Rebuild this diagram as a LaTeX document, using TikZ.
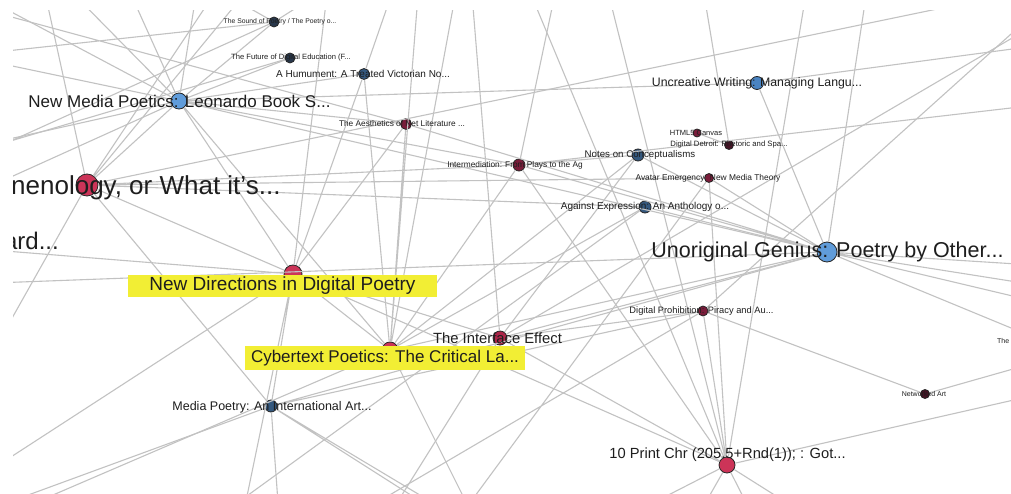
\documentclass[tikz,border=0pt]{standalone}
\usepackage{fontspec}
\setmainfont{Liberation Sans}
\newcommand{\fsz}[1]{\fontsize{#1}{#1}\selectfont}
\definecolor{edgegray}{RGB}{194,194,194}
\definecolor{crimson}{RGB}{204,52,88}
\definecolor{darkcrimson}{RGB}{172,36,72}
\definecolor{wine}{RGB}{122,28,58}
\definecolor{darkwine}{RGB}{70,20,38}
\definecolor{skyblue}{RGB}{96,156,218}
\definecolor{midblue}{RGB}{74,132,194}
\definecolor{steel}{RGB}{52,88,126}
\definecolor{slate}{RGB}{40,55,75}
\definecolor{hilite}{RGB}{242,238,52}
\definecolor{labtext}{RGB}{30,30,30}

\begin{document}
\begin{tikzpicture}[x=1pt,y=-1pt,
  edge/.style={draw=edgegray, line width=1.1pt},
  vdot/.style={circle, draw=black!85, line width=0.8pt, inner sep=0pt, minimum size=#1},
  lab/.style={inner sep=0pt, text=labtext},
  hl/.style={fill=hilite, inner sep=0pt, text=labtext}]

\fill[white] (0,0) rectangle (1011,494);
\begin{scope}
\clip (13,11) rectangle (1011,494);

% books
\node[vdot=16pt, fill=skyblue] (np) at (179,101) {};
\node[vdot=22pt, fill=crimson] (ap) at (87,185) {};
\node[vdot=18pt, fill=crimson] (nd) at (293,274) {};
\node[vdot=16pt, fill=crimson] (cy) at (390,350) {};
\node[vdot=14pt, fill=darkcrimson] (ie) at (500,338) {};
\node[vdot=12pt, fill=steel] (mp) at (271,406) {};
\node[vdot=16pt, fill=crimson] (tp) at (727,465) {};
\node[vdot=20pt, fill=skyblue] (ug) at (827,252) {};
\node[vdot=13pt, fill=midblue] (uw) at (757,83) {};
\node[vdot=10pt, fill=wine] (dp) at (703,311) {};
\node[vdot=9pt, fill=darkwine] (na) at (925,394) {};
\node[vdot=10pt, fill=slate] (sp) at (274,22) {};
\node[vdot=10pt, fill=slate] (fu) at (290,58) {};
\node[vdot=11pt, fill=steel] (hu) at (364,74) {};
\node[vdot=11pt, fill=wine] (ae) at (406,124) {};
\node[vdot=12pt, fill=wine] (im) at (519,165) {};
\node[vdot=12pt, fill=steel] (nc) at (638,155) {};
\node[vdot=8pt, fill=wine] (ht) at (697,133) {};
\node[vdot=9pt, fill=darkwine] (dd) at (729,145) {};
\node[vdot=9pt, fill=wine] (av) at (709,178) {};
\node[vdot=12pt, fill=steel] (ax) at (645,207) {};

% books outside the view
\coordinate (ard) at (-70,245);
\coordinate (th) at (1045,342);
\coordinate (c1) at (-30,-10);
\coordinate (c2) at (-40,55);
\coordinate (c3) at (40,-30);
\coordinate (c4) at (120,-30);
\coordinate (c6) at (230,-30);
\coordinate (c7) at (330,-30);
\coordinate (c8) at (420,-30);
\coordinate (c9) at (470,-30);
\coordinate (c10) at (560,-30);
\coordinate (c11) at (600,-40);
\coordinate (c12) at (700,-30);
\coordinate (c13) at (810,-30);
\coordinate (c14) at (870,-30);
\coordinate (c15) at (1060,10);
\coordinate (c16) at (1060,-10);
\coordinate (c17) at (-20,375);
\coordinate (c18) at (-40,490);
\coordinate (c19) at (-40,520);
\coordinate (c20) at (-40,535);
\coordinate (c21) at (-40,150);
\coordinate (c23) at (-60,285);
\coordinate (c24) at (400,-30);
\coordinate (c25) at (200,-20);
\coordinate (c26) at (340,-20);
\coordinate (c29) at (1000,-4);
\coordinate (c30) at (525,-20);
\coordinate (c31) at (460,-30);
\coordinate (c32) at (-40,3);
\coordinate (c33) at (-40,56);
\coordinate (c34) at (50,-30);
\coordinate (c35) at (200,-30);
\coordinate (c36) at (-40,164);
\coordinate (c37) at (-40,156);
\coordinate (c38) at (260,-25);
\coordinate (c39) at (-40,200);
\coordinate (b1) at (240,530);
\coordinate (b2) at (200,530);
\coordinate (b3) at (330,530);
\coordinate (b4) at (450,530);
\coordinate (b5) at (480,530);
\coordinate (b6) at (690,530);
\coordinate (b7) at (760,530);
\coordinate (b8) at (600,530);
\coordinate (b9) at (830,530);
\coordinate (b10) at (280,530);
\coordinate (b11) at (450,520);
\coordinate (b12) at (470,525);
\coordinate (b13) at (380,530);
\coordinate (r1) at (1080,40);
\coordinate (r2) at (1080,100);
\coordinate (r3) at (1080,268);
\coordinate (r4) at (1080,292);
\coordinate (r5) at (1080,312);
\coordinate (r6) at (1080,350);
\coordinate (r7) at (1080,385);

% links
\draw[edge] (np) -- (ap) (np) -- (nd) (np) -- (cy) (np) -- (ug) (np) -- (im)
  (np) -- (sp) (np) -- (fu) (np) -- (hu) (np) -- (uw) (np) -- (c1) (np) -- (c2)
  (np) -- (c4) (np) -- (c21) (np) -- (ae) (np) -- (c34) (np) -- (c35) (np) -- (c39);
\draw[edge] (ap) -- (nd) (ap) -- (mp) (ap) -- (im) (ap) -- (ax) (ap) -- (av)
  (ap) -- (c3) (ap) -- (c6) (ap) -- (c17) (ap) -- (c29) (ap) -- (c38);
\draw[edge] (nd) -- (mp) (nd) -- (cy) (nd) -- (ie) (nd) -- (tp) (nd) -- (hu)
  (nd) -- (ae) (nd) -- (c7) (nd) -- (b1) (nd) -- (c18) (nd) -- (ard);
\draw[edge] (cy) -- (ae) (cy) -- (im) (cy) -- (nc) (cy) -- (ax) (cy) -- (ug)
  (cy) -- (hu) (cy) -- (c8) (cy) -- (c31) (cy) -- (b5) (cy) -- (c20);
\draw[edge] (ie) -- (c9) (ie) -- (nc) (ie) -- (dp) (ie) -- (ug) (ie) -- (c15)
  (ie) -- (tp) (ie) -- (b13);
\draw[edge] (mp) -- (c19) (mp) -- (b10) (mp) -- (b11) (mp) -- (b12) (mp) -- (ug)
  (mp) -- (dp);
\draw[edge] (tp) -- (dp) (tp) -- (av) (tp) -- (im) (tp) -- (c11) (tp) -- (c13)
  (tp) -- (c30) (tp) -- (b6) (tp) -- (b7) (tp) -- (b8) (tp) -- (b9) (tp) -- (r7);
\draw[edge] (ug) -- (uw) (ug) -- (c14) (ug) -- (ax) (ug) -- (im) (ug) -- (nc)
  (ug) -- (av) (ug) -- (ae) (ug) -- (r3) (ug) -- (r4) (ug) -- (r5) (ug) -- (th)
  (ug) -- (c23);
\draw[edge] (uw) -- (r1) (dp) -- (na) (dp) -- (c16) (dp) -- (b3) (na) -- (r6)
  (im) -- (nc) (im) -- (c10) (im) -- (r2) (av) -- (b4) (dd) -- (c12) (dd) -- (ht)
  (ax) -- (b2) (hu) -- (c24) (sp) -- (c25) (sp) -- (c26) (sp) -- (c33) (sp) -- (c36)
  (fu) -- (c37) (ae) -- (c32);

% titles
\node[lab, font=\fsz{17}] (np-l) at (179.5,101) {New Media Poetics: Leonardo Book S...};
\node[lab, font=\fsz{26}, anchor=west] (ap-l) at (11,188) {nenology, or What it's...};
\node[lab, font=\fsz{24}, anchor=east] (ard-l) at (59,241) {ard...};
\node[hl, minimum width=309pt, minimum height=22pt, font=\fsz{19}] (nd-l) at (282.5,286) {New Directions in Digital Poetry};
\node[hl, minimum width=280pt, minimum height=24pt, font=\fsz{17}] (cy-l) at (385,358) {Cybertext Poetics: The Critical La...};
\node[lab, font=\fsz{14.8}] (ie-l) at (497.5,338) {The Interface Effect};
\node[lab, font=\fsz{12.5}] (mp-l) at (272,407) {Media Poetry: An International Art...};
\node[lab, font=\fsz{14.7}] (tp-l) at (727.5,455) {10 Print Chr (205.5+Rnd(1)); : Got...};
\node[lab, font=\fsz{21.5}] (ug-l) at (827.5,252) {Unoriginal Genius: Poetry by Other...};
\node[lab, font=\fsz{12.3}] (uw-l) at (757,83) {Uncreative Writing: Managing Langu...};
\node[lab, font=\fsz{9.3}] (dp-l) at (701.5,311) {Digital Prohibition: Piracy and Au...};
\node[lab, font=\fsz{7}] (na-l) at (924,394) {Networked Art};
\node[lab, font=\fsz{7}, anchor=west] (th-l) at (997,341) {The};
\node[lab, font=\fsz{6.8}] (sp-l) at (280,22) {The Sound of Poetry / The Poetry o...};
\node[lab, font=\fsz{7.6}] (fu-l) at (291,58) {The Future of Digital Education (F...};
\node[lab, font=\fsz{10}] (hu-l) at (363,74) {A Humument: A Treated Victorian No...};
\node[lab, font=\fsz{8.3}] (ae-l) at (402,124) {The Aesthetics of Net Literature ...};
\node[lab, font=\fsz{8.3}] (im-l) at (515,165) {Intermediation: From Plays to the Ag};
\node[lab, font=\fsz{9.7}] (nc-l) at (640,155) {Notes on Conceptualisms};
\node[lab, font=\fsz{7.5}] (ht-l) at (696,133) {HTML5 Canvas};
\node[lab, font=\fsz{7.7}] (dd-l) at (729,145) {Digital Detroit: Rhetoric and Spa...};
\node[lab, font=\fsz{8.4}] (av-l) at (708,178) {Avatar Emergency: New Media Theory};
\node[lab, font=\fsz{10}] (ax-l) at (645,207) {Against Expression: An Anthology o...};
\end{scope}
\end{tikzpicture}
\end{document}
